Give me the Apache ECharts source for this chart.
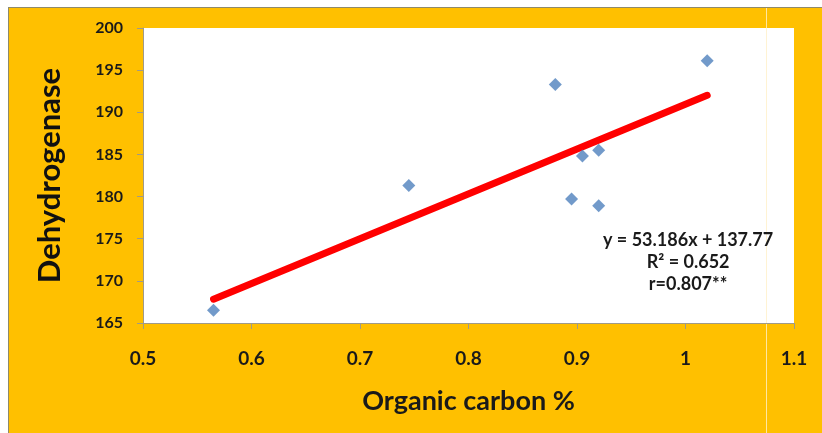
<!DOCTYPE html>
<html>
<head>
<meta charset="utf-8">
<script src="https://cdn.jsdelivr.net/npm/echarts@6/dist/echarts.min.js"></script>
<style>
  html, body { margin: 0; padding: 0; background: #fff; }
  #chart { width: 822px; height: 433px; }
</style>
</head>
<body>
<div id="chart"></div>
<script>
// Organic carbon (%) against dehydrogenase activity
const organicCarbon = [0.565, 0.745, 0.88, 0.895, 0.905, 0.92, 0.92, 1.02];
const dehydrogenase = [166.5, 181.3, 193.3, 179.7, 184.8, 185.5, 178.9, 196.1];

// Fitted regression line, as printed on the chart
const slope = 53.186;
const intercept = 137.77;
const equationLines = ['y = 53.186x + 137.77', 'R\u00b2 = 0.652', 'r=0.807**'];

const xTicks = { min: 0.5, max: 1.1, step: 0.1 };
const yTicks = { min: 165, max: 200, step: 5 };

const xMin = Math.min(...organicCarbon);
const xMax = Math.max(...organicCarbon);
const trendLine = [
  [xMin, intercept + slope * xMin],
  [xMax, intercept + slope * xMax]
];

const font = 'Lato, "Open Sans", sans-serif';
const chart = echarts.init(document.getElementById('chart'), null, { renderer: 'canvas' });

chart.setOption({
  backgroundColor: '#FFC000',
  animation: false,
  grid: {
    left: 143, right: 28, top: 28, bottom: 110,
    show: true, backgroundColor: '#ffffff', borderWidth: 0
  },
  xAxis: {
    type: 'value',
    min: xTicks.min, max: xTicks.max, interval: xTicks.step,
    name: 'Organic carbon %',
    nameLocation: 'middle',
    nameGap: 65,
    nameTextStyle: { fontFamily: font, fontSize: 27, fontWeight: 'bold', color: '#1a1a1a' },
    axisLine: { show: true, lineStyle: { color: '#a09a88', width: 1 } },
    axisTick: { show: true, length: 6, lineStyle: { color: '#a09a88' } },
    axisLabel: { fontFamily: font, fontSize: 19, fontWeight: 'bold', color: '#1a1a1a', margin: 26 },
    splitLine: { show: false }
  },
  yAxis: {
    type: 'value',
    min: yTicks.min, max: yTicks.max, interval: yTicks.step,
    name: 'Dehydrogenase',
    nameLocation: 'middle',
    nameGap: 78,
    nameTextStyle: { fontFamily: font, fontSize: 31, fontWeight: 'bold', color: '#111' },
    axisLine: { show: true, lineStyle: { color: '#a09a88', width: 1 } },
    axisTick: { show: true, length: 6, lineStyle: { color: '#a09a88' } },
    axisLabel: { fontFamily: font, fontSize: 16, fontWeight: 'bold', color: '#1a1a1a', margin: 20 },
    splitLine: { show: false }
  },
  graphic: [
    // white margin strips and the thin frame edge around the coloured panel
    { type: 'rect', shape: { x: 0, y: 0, width: 822, height: 7 }, style: { fill: '#ffffff' }, z: 100 },
    { type: 'rect', shape: { x: 0, y: 0, width: 8, height: 433 }, style: { fill: '#ffffff' }, z: 100 },
    { type: 'line', shape: { x1: 8, y1: 7.5, x2: 822, y2: 7.5 }, style: { stroke: '#8f8a6a', lineWidth: 1 }, z: 101 },
    { type: 'line', shape: { x1: 8.5, y1: 7, x2: 8.5, y2: 433 }, style: { stroke: '#8f8a6a', lineWidth: 1 }, z: 101 },
    { type: 'line', shape: { x1: 766.5, y1: 8, x2: 766.5, y2: 433 }, style: { stroke: 'rgba(255,240,200,0.8)', lineWidth: 1 }, z: 0 },
    {
      type: 'group', left: 603, top: 231, z: 50,
      children: equationLines.map((t, i) => ({
        type: 'text',
        x: 88, y: i * 22,
        style: {
          text: t, textAlign: 'center', textVerticalAlign: 'middle',
          font: 'bold 18px ' + font, fill: '#1a1a1a'
        }
      }))
    }
  ],
  series: [
    {
      type: 'line',
      data: trendLine,
      symbol: 'none',
      lineStyle: { color: '#ff0000', width: 7, cap: 'round' },
      z: 2
    },
    {
      type: 'scatter',
      data: organicCarbon.map((x, i) => [x, dehydrogenase[i]]),
      symbol: 'diamond',
      symbolSize: [13, 13],
      itemStyle: { color: '#4F81BD' },
      z: 3
    }
  ]
});
</script>
</body>
</html>
